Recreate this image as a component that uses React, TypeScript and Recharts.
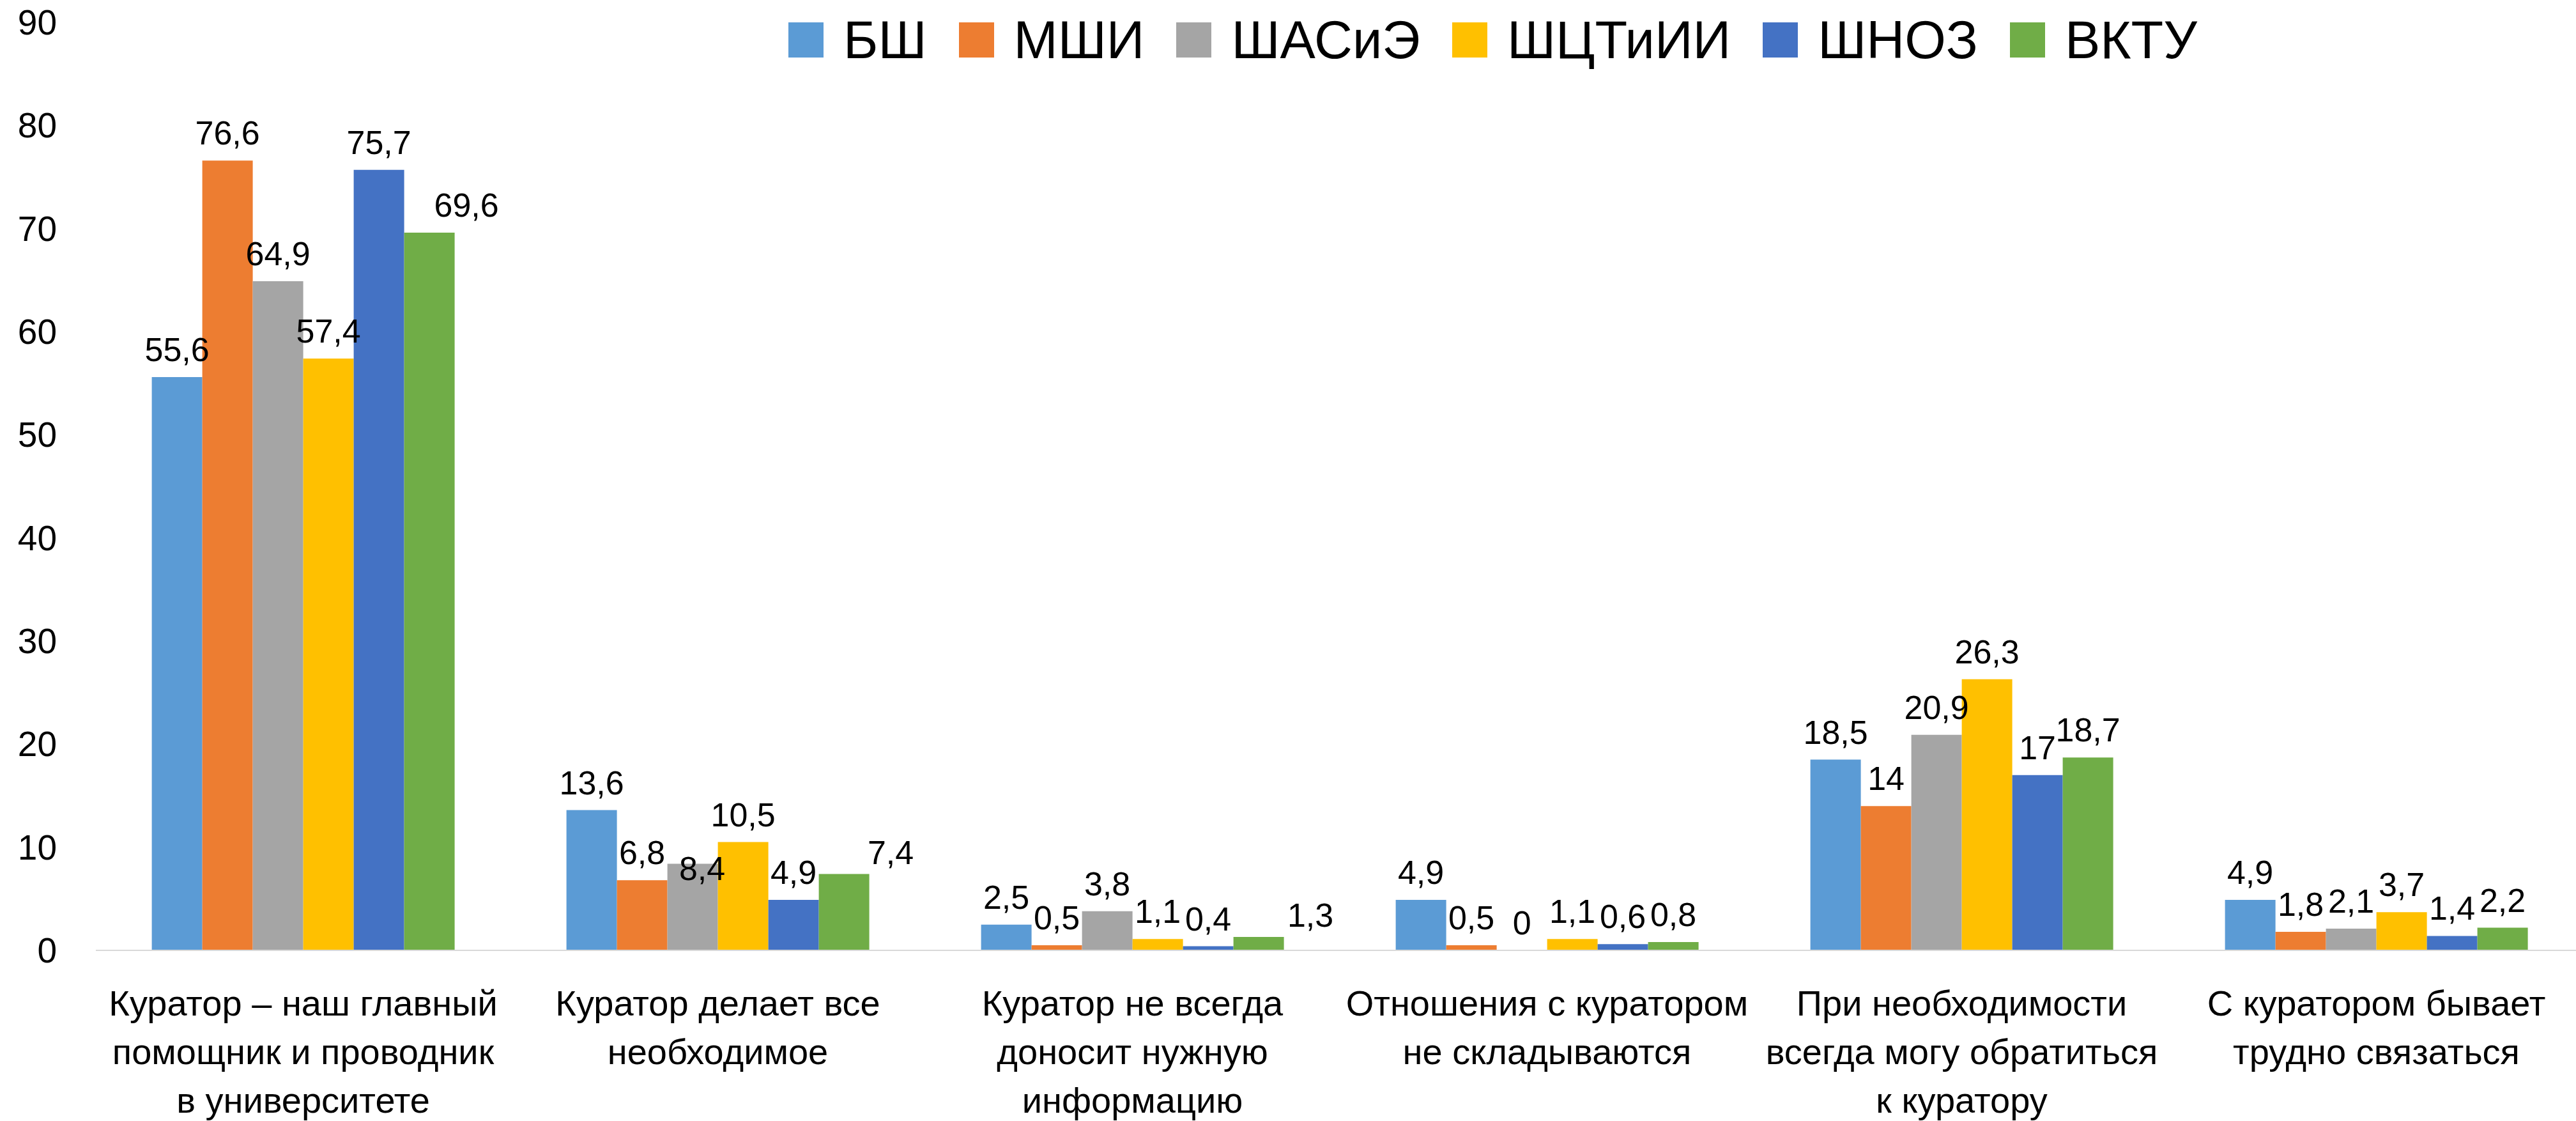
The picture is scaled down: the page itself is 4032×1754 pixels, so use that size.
import { BarChart, Bar, XAxis, YAxis, LabelList } from "recharts";

// category labels, already broken into lines like in the original
const categoryLines = [
  ["Куратор – наш главный", "помощник и проводник", "в университете"],
  ["Куратор делает все", "необходимое"],
  ["Куратор не всегда", "доносит нужную", "информацию"],
  ["Отношения с куратором", "не складываются"],
  ["При необходимости", "всегда могу обратиться", "к куратору"],
  ["С куратором бывает", "трудно связаться"],
];

const seriesNames = ["БШ", "МШИ", "ШАСиЭ", "ШЦТиИИ", "ШНОЗ", "ВКТУ"];
const seriesColors = ["#5B9BD5", "#ED7D31", "#A5A5A5", "#FFC000", "#4472C4", "#70AD47"];

const bsh = [55.6, 13.6, 2.5, 4.9, 18.5, 4.9];
const mshi = [76.6, 6.8, 0.5, 0.5, 14, 1.8];
const shasie = [64.9, 8.4, 3.8, 0, 20.9, 2.1];
const shctiii = [57.4, 10.5, 1.1, 1.1, 26.3, 3.7];
const shnoz = [75.7, 4.9, 0.4, 0.6, 17, 1.4];
const vktu = [69.6, 7.4, 1.3, 0.8, 18.7, 2.2];

const yTicks = [0, 10, 20, 30, 40, 50, 60, 70, 80, 90];

const seriesValues = [bsh, mshi, shasie, shctiii, shnoz, vktu];

const data = categoryLines.map((lines, i) => {
  const row: Record<string, string | number> = { name: lines.join(" ") };
  seriesValues.forEach((vals, s) => {
    row[`s${s}`] = vals[i];
  });
  return row;
});

// labels that Excel had dragged aside: [series, category, dx, dy]
const labelNudges: [number, number, number, number][] = [
  [5, 0, 58, 0],
  [2, 1, 15, 51],
  [5, 1, 73, 9],
  [5, 2, 81, 9],
];

const FONT = '"Liberation Sans", Arial, sans-serif';
const CHART_W = 4044;
const CHART_H = 1754;
const AXIS_H = 267;
const PLOT_BOTTOM = CHART_H - AXIS_H;

const fmt = (v: number) => String(v).replace(".", ",");

function makeLabel(seriesIdx: number) {
  return (props: any) => {
    const { x, y, width, index } = props;
    const value = seriesValues[seriesIdx][index];
    const nudge = labelNudges.find((n) => n[0] === seriesIdx && n[1] === index);
    const dx = nudge ? nudge[2] : 0;
    const dy = nudge ? nudge[3] : 0;
    return (
      <text
        x={Number(x) + Number(width) / 2 + dx}
        y={Number(y) - 25 + dy}
        textAnchor="middle"
        fontFamily={FONT}
        fontSize={52}
        fill="#000"
      >
        {fmt(value)}
      </text>
    );
  };
}

function CategoryTick(props: any) {
  const { x, payload } = props;
  const lines = categoryLines.find((l) => l.join(" ") === payload.value) || [payload.value];
  return (
    <text
      x={x}
      y={PLOT_BOTTOM + 82}
      textAnchor="middle"
      fontFamily={FONT}
      fontSize={56}
      fill="#000"
      dominantBaseline="central"
    >
      {lines.map((line: string, i: number) => (
        <tspan key={i} x={x} dy={i === 0 ? 0 : 76}>
          {line}
        </tspan>
      ))}
    </text>
  );
}

function ValueTick(props: any) {
  const { y, payload } = props;
  return (
    <text
      x={89}
      y={y}
      textAnchor="end"
      dominantBaseline="central"
      fontFamily={FONT}
      fontSize={55}
      fill="#000"
    >
      {payload.value}
    </text>
  );
}

function LegendRow() {
  return (
    <div
      style={{
        position: "absolute",
        left: 1234,
        top: 35,
        height: 55,
        display: "flex",
        alignItems: "center",
        fontFamily: FONT,
        fontSize: 83,
        lineHeight: 1,
        whiteSpace: "nowrap",
      }}
    >
      {seriesNames.map((name, i) => (
        <div
          key={name}
          style={{ display: "flex", alignItems: "center", marginRight: 50 }}
        >
          <div
            style={{
              width: 55,
              height: 55,
              background: seriesColors[i],
              marginRight: 31,
            }}
          />
          <span>{name}</span>
        </div>
      ))}
    </div>
  );
}

export default function App() {
  return (
    <div
      style={{
        position: "fixed",
        left: 0,
        top: 0,
        width: 4032,
        height: 1754,
        overflow: "hidden",
        background: "#fff",
      }}
    >
      <BarChart
        width={CHART_W}
        height={CHART_H}
        data={data}
        margin={{ top: 35, right: 0, left: 0, bottom: 0 }}
        barCategoryGap="13.5%"
        barGap={0}
      >
        <XAxis
          dataKey="name"
          interval={0}
          height={AXIS_H}
          tickLine={false}
          axisLine={{ stroke: "#d9d9d9", strokeWidth: 2 }}
          tick={<CategoryTick />}
        />
        <YAxis
          width={150}
          domain={[0, 90]}
          ticks={yTicks}
          axisLine={false}
          tickLine={false}
          tick={<ValueTick />}
        />
        {seriesNames.map((name, i) => (
          <Bar
            key={name}
            dataKey={`s${i}`}
            name={name}
            fill={seriesColors[i]}
            minPointSize={0.01}
            isAnimationActive={false}
          >
            <LabelList dataKey={`s${i}`} content={makeLabel(i)} />
          </Bar>
        ))}
      </BarChart>
      <LegendRow />
    </div>
  );
}
